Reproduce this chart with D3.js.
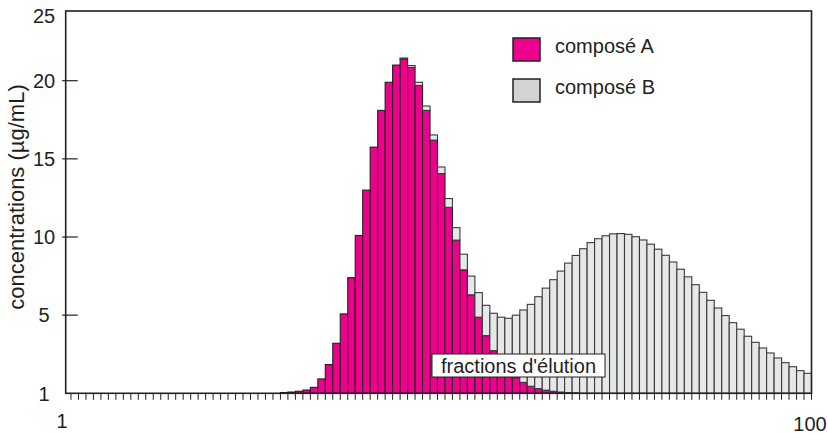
<!DOCTYPE html>
<html>
<head>
<meta charset="utf-8">
<script src="https://cdn.jsdelivr.net/npm/d3@7"></script>
<style>
  html, body { margin: 0; padding: 0; background: #fff; }
  svg { display: block; }
  text { font-family: "Liberation Sans", Arial, sans-serif; fill: #231f20; }
</style>
</head>
<body>
<svg id="chart" width="828" height="434"></svg>
<script>
// ---- data ----
const fractions = d3.range(1, 101);
// composé A (µg/mL) per fraction, index 0 = fraction 1
const compA = [
  0,0,0,0,0,0,0,0,0,0,
  0,0,0,0,0,0,0,0,0,0,
  0,0,0,0,0,0,0,0,0,0.05,
  0.08,0.13,0.21,0.38,0.92,1.84,3.2,5.08,7.4,10.1,
  13.0,15.75,18.1,19.9,21.0,21.4,20.85,19.7,18.1,16.2,
  14.06,11.9,9.8,7.9,6.3,4.87,3.69,2.73,2.0,1.45,
  1.0,0.7,0.45,0.3,0.2,0.13,0.08,0.05,0.03,0,
  0,0,0,0,0,0,0,0,0,0,
  0,0,0,0,0,0,0,0,0,0,
  0,0,0,0,0,0,0,0,0,0
];
// composé B (µg/mL) per fraction
const compB = [
  0,0,0,0,0,0,0,0,0,0,
  0,0,0,0,0,0,0,0,0,0,
  0,0,0,0,0,0,0,0,0,0,
  0,0,0,0,0,0,0,0,0,0,
  0,0,0,0,0,0.05,0.12,0.2,0.28,0.33,
  0.42,0.56,0.8,1.0,1.2,1.57,1.94,2.39,2.87,3.35,
  4.0,4.63,5.24,5.88,6.53,7.14,7.74,8.28,8.79,9.25,
  9.64,9.89,10.08,10.2,10.22,10.17,10.02,9.81,9.54,9.22,
  8.83,8.4,7.94,7.45,6.95,6.46,5.95,5.46,4.97,4.52,
  4.1,3.65,3.26,2.9,2.58,2.26,1.96,1.7,1.45,1.28
];
const seriesNames = ["composé A", "composé B"];
const yTickValues = [0, 5, 10, 15, 20, 25];
const yTickLabels = ["1", "5", "10", "15", "20", "25"];
const xTickLabels = ["1", "100"];
const yAxisTitle = "concentrations (µg/mL)";
const xAxisTitle = "fractions d'élution";

// ---- layout ----
const W = 828, H = 434;
const frame = { left: 65.7, right: 811.5, top: 11, bottom: 393.3 };
const colA = "#ec008c", colB = "#e6e7e8", stroke = "#231f20";

const svg = d3.select("#chart");

const x = d3.scaleBand().domain(fractions).range([63.5, frame.right]).paddingInner(0).paddingOuter(0);
const y = d3.scaleLinear().domain([0, 24.46]).range([frame.bottom, frame.top]);

const table = fractions.map((f, i) => ({ f, A: compA[i], B: compB[i] }));
const stack = d3.stack().keys(["A", "B"]);
const layers = stack(table);
const colors = [colA, colB];

const gBars = svg.append("g");
layers.forEach((layer, li) => {
  gBars.append("g")
    .selectAll("rect")
    .data(layer.filter(d => d[1] - d[0] > 0))
    .join("rect")
    .attr("x", d => x(d.data.f))
    .attr("width", x.bandwidth())
    .attr("y", d => y(d[1]))
    .attr("height", d => y(d[0]) - y(d[1]))
    .attr("fill", colors[li])
    .attr("stroke", li === 0 ? stroke : "#3a3a3a")
    .attr("stroke-width", 1.1);
});

// x ticks at each bar boundary (below axis)
const gx = svg.append("g");
gx.selectAll("line")
  .data(fractions)
  .join("line")
  .attr("x1", d => x(d) + x.bandwidth())
  .attr("x2", d => x(d) + x.bandwidth())
  .attr("y1", frame.bottom)
  .attr("y2", frame.bottom + 6.5)
  .attr("stroke", stroke)
  .attr("stroke-width", 1);

// frame
svg.append("rect")
  .attr("x", frame.left).attr("y", frame.top)
  .attr("width", frame.right - frame.left)
  .attr("height", frame.bottom - frame.top)
  .attr("fill", "none")
  .attr("stroke", stroke)
  .attr("stroke-width", 1.6);

// y ticks
const gy = svg.append("g");
yTickValues.forEach((v, i) => {
  const yy = y(v);
  if (v > 0 && v < 24) {
    gy.append("line")
      .attr("x1", frame.left - 3.5).attr("x2", frame.left + 12)
      .attr("y1", yy).attr("y2", yy)
      .attr("stroke", stroke).attr("stroke-width", 1.2);
  }
  gy.append("text")
    .attr("x", 44)
    .attr("y", Math.max(yy, frame.top + 5))
    .attr("dy", "0.36em")
    .attr("text-anchor", "middle")
    .attr("font-size", 20)
    .text(yTickLabels[i]);
});

// x tick labels
svg.append("text")
  .attr("x", 62).attr("y", 428)
  .attr("text-anchor", "middle").attr("font-size", 20)
  .text(xTickLabels[0]);
svg.append("text")
  .attr("x", 810).attr("y", 431)
  .attr("text-anchor", "middle").attr("font-size", 20)
  .text(xTickLabels[1]);

// y axis title
svg.append("text")
  .attr("transform", "translate(24,197) rotate(-90)")
  .attr("text-anchor", "middle")
  .attr("font-size", 22)
  .text(yAxisTitle);

// x axis title box
const gt = svg.append("g");
gt.append("rect")
  .attr("x", 432).attr("y", 354).attr("width", 173).attr("height", 23)
  .attr("fill", "#fff").attr("stroke", stroke).attr("stroke-width", 1);
gt.append("text")
  .attr("x", 518.5).attr("y", 372.5)
  .attr("text-anchor", "middle").attr("font-size", 20)
  .text(xAxisTitle);

// legend
const legend = svg.append("g");
const legendFill = [colA, "#d1d3d4"];
seriesNames.forEach((name, i) => {
  const ly = 38 + i * 41;
  legend.append("rect")
    .attr("x", 513).attr("y", ly).attr("width", 27).attr("height", 23)
    .attr("fill", legendFill[i]).attr("stroke", stroke).attr("stroke-width", 1.5);
  legend.append("text")
    .attr("x", 555).attr("y", ly + 15)
    .attr("font-size", 20)
    .text(name);
});
</script>
</body>
</html>
